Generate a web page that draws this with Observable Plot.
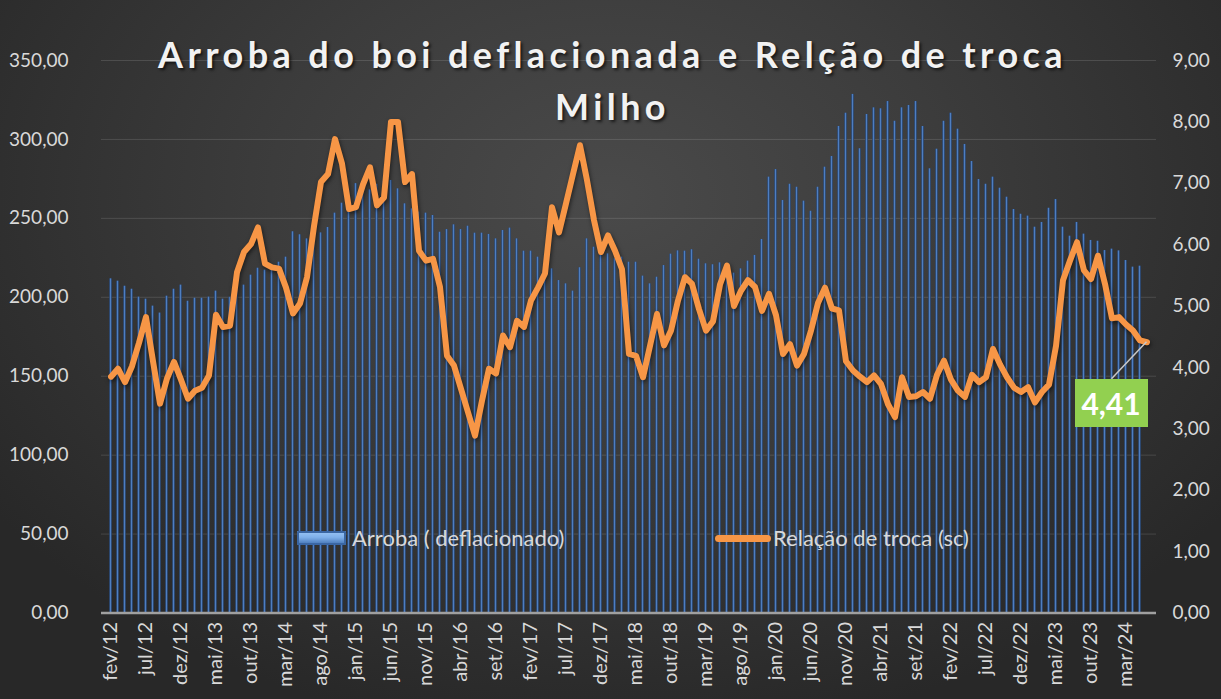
<!DOCTYPE html>
<html><head><meta charset="utf-8">
<script src="https://cdn.jsdelivr.net/npm/d3@7"></script>
<script src="https://cdn.jsdelivr.net/npm/@observablehq/plot@0.6"></script>
<style>
html,body{margin:0;padding:0;background:#2a2a2a;}
#wrap{position:relative;width:1221px;height:699px;overflow:hidden;
  background: radial-gradient(ellipse 62% 78% at 50% 28%, #4a4a4a 0%, #3c3c3c 45%, #282828 100%);
  font-family: Lato, "Open Sans", sans-serif;}
#chart{position:absolute;left:0;top:0;}
.title{position:absolute;left:2px;width:1221px;text-align:center;color:#f2f2f2;font-weight:700;
  font-size:36px;letter-spacing:4.4px;text-shadow:2px 2px 3px rgba(0,0,0,0.65);white-space:nowrap;}
.leg{position:absolute;color:#d9d9d9;font-size:22px;white-space:nowrap;line-height:22px;}
.sw1{position:absolute;width:49px;height:14px;border-radius:1px;
  background:linear-gradient(#9cc6f5 0%, #7fb0ea 45%, #3f6fb0 100%);
  box-shadow: inset 0 0 0 2px #3a66a3;}
.sw2{position:absolute;width:56px;height:7px;border-radius:4px;background:#f79646;}
#lab{position:absolute;background:#92d050;color:#fff;font-weight:700;font-size:30px;
  text-align:center;line-height:48px;width:73px;height:48px;}
</style></head>
<body>
<div id="wrap">
  <div id="chart"></div>
  <div class="title" style="top:32px;">Arroba do boi deflacionada e Relção de troca</div>
  <div class="title" style="top:84px;">Milho</div>
  <div class="sw1" style="left:297px;top:531px;"></div>
  <div class="leg" style="left:352px;top:527px;">Arroba ( deflacionado)</div>
  <div class="sw2" style="left:715px;top:535px;"></div>
  <div class="leg" style="left:773px;top:527px;">Relação de troca (sc)</div>
  <div id="lab"></div>
</div>
<script>
// Categories: monthly, fev/12 .. jun/24
const monthNames = ["jan","fev","mar","abr","mai","jun","jul","ago","set","out","nov","dez"];
const startMonthIndex = 1, startYear = 12, nMonths = 149;
const months = d3.range(nMonths).map(i => monthNames[(startMonthIndex + i) % 12] + "/" + (startYear + Math.floor((startMonthIndex + i) / 12)));

// Arroba (deflacionado), R$ — fev/12 .. mai/24
const arroba = [
211.7,210.2,207.0,205.1,200.1,198.8,194.4,190.0,200.7,205.1,207.7,197.5,
199.4,199.4,200.1,203.9,198.8,200.0,207.0,207.7,214.0,218.4,217.2,220.0,
222.2,225.4,241.5,239.6,237.0,238.0,240.8,244.2,253.3,259.6,265.0,272.0,
270.0,268.0,271.6,273.5,274.0,268.7,259.2,256.0,254.0,253.3,251.8,241.2,
242.9,245.9,242.9,245.0,240.6,240.6,239.8,237.0,242.3,243.8,237.0,229.2,
229.2,225.4,221.2,218.0,210.6,208.5,203.9,218.7,237.0,231.7,228.6,227.5,
224.4,225.4,222.2,222.2,213.4,208.5,212.7,220.1,227.3,229.4,229.2,230.1,
224.1,221.2,220.6,221.8,220.6,215.3,218.0,222.9,226.5,236.6,276.1,280.9,
261.3,271.6,269.7,260.9,254.5,269.7,282.4,289.2,308.2,316.6,328.5,294.1,
315.8,320.0,319.4,324.0,311.5,320.0,321.5,324.0,308.2,281.4,293.8,311.5,
316.6,306.5,296.8,286.0,274.6,271.6,276.1,269.1,263.4,255.6,252.6,251.4,
244.4,247.4,256.4,261.9,244.4,238.7,247.4,240.0,236.0,235.5,229.6,230.5,
229.4,223.3,219.1,219.7];

// Relação de troca (sc) — fev/12 .. jun/24
const relacao = [
3.85,3.98,3.76,4.02,4.40,4.82,4.10,3.41,3.82,4.09,3.80,3.49,
3.62,3.67,3.87,4.86,4.66,4.68,5.55,5.88,6.01,6.28,5.69,5.63,
5.61,5.30,4.88,5.04,5.47,6.30,7.02,7.15,7.72,7.32,6.58,6.61,
6.98,7.26,6.64,6.77,8.00,8.00,7.02,7.15,5.90,5.74,5.77,5.31,
4.19,4.03,3.65,3.27,2.89,3.46,3.98,3.90,4.52,4.33,4.76,4.66,
5.09,5.30,5.53,6.61,6.20,6.67,7.15,7.62,7.05,6.40,5.88,6.15,
5.90,5.60,4.22,4.19,3.84,4.35,4.87,4.36,4.60,5.09,5.47,5.36,
4.95,4.60,4.75,5.35,5.66,5.00,5.25,5.42,5.31,4.92,5.20,4.85,
4.22,4.38,4.03,4.22,4.60,5.05,5.30,4.96,4.93,4.10,3.95,3.85,
3.76,3.87,3.73,3.40,3.19,3.84,3.52,3.53,3.60,3.49,3.88,4.11,
3.80,3.62,3.52,3.88,3.76,3.84,4.30,4.05,3.84,3.67,3.60,3.68,
3.43,3.60,3.72,4.35,5.42,5.74,6.04,5.58,5.44,5.82,5.36,4.80,
4.82,4.70,4.60,4.44,4.41];

const leftTicks = [0,50,100,150,200,250,300,350];
const rightTicks = [0,1,2,3,4,5,6,7,8,9];
const leftMax = 350, rightMax = 9;
const toLeft = v => v * leftMax / rightMax;
const fmt = v => v.toFixed(2).replace(".", ",");
const xTicks = months.filter((d, i) => i % 5 === 0);

const barData = arroba.map((v, i) => ({m: months[i], v}));
const lineData = relacao.map((v, i) => ({m: months[i], v}));

const chart = Plot.plot({
  width: 1221, height: 699,
  marginLeft: 101, marginRight: 65, marginTop: 60, marginBottom: 86.5,
  style: {background: "transparent", color: "#d9d9d9", fontFamily: "Lato, 'Open Sans', sans-serif"},
  x: {type: "band", domain: months, padding: 0},
  y: {domain: [0, leftMax]},
  marks: [
    Plot.gridY(leftTicks.filter(d => d > 0), {stroke: "#ffffff", strokeOpacity: 0.13, strokeWidth: 1}),
    Plot.barY(barData, {x: "m", y: "v", fill: "url(#barGrad)", insetLeft: 2.2, insetRight: 2.2}),
    Plot.ruleY([0], {stroke: "#a0a0a0", strokeWidth: 2.5}),
    Plot.lineY(lineData, {x: "m", y: d => toLeft(d.v), stroke: "#f79646", strokeWidth: 6,
      strokeLinejoin: "round", strokeLinecap: "round"}),
    Plot.axisY(leftTicks, {anchor: "left", tickSize: 0, tickPadding: 33, fontSize: 19,
      tickFormat: fmt, label: null}),
    Plot.axisY(rightTicks.map(toLeft), {anchor: "right", tickSize: 0, tickPadding: 16, fontSize: 19,
      tickFormat: d => fmt(d * rightMax / leftMax), label: null}),
    Plot.axisX(xTicks, {anchor: "bottom", tickSize: 0, tickPadding: 9, tickRotate: -90, fontSize: 20, label: null})
  ]
});
document.getElementById("chart").appendChild(chart);

// bar gradient + line shadow
const svg = d3.select(chart);
const defs = svg.insert("defs", ":first-child");
const g = defs.append("linearGradient").attr("id", "barGrad").attr("x1", 0).attr("x2", 1).attr("y1", 0).attr("y2", 0);
g.append("stop").attr("offset", "0%").attr("stop-color", "#22406c");
g.append("stop").attr("offset", "50%").attr("stop-color", "#4f7ec0");
g.append("stop").attr("offset", "100%").attr("stop-color", "#22406c");
svg.selectAll('g[aria-label="line"] path').style("filter", "drop-shadow(1px 2px 2px rgba(0,0,0,0.55))");

// data label for the last point, positioned from the chart's own scales
const sx = chart.scale("x"), sy = chart.scale("y");
const last = lineData[lineData.length - 1];
const px = sx.apply(last.m) + sx.bandwidth / 2;
const py = sy.apply(toLeft(last.v));
const lab = document.getElementById("lab");
lab.textContent = fmt(last.v);
const bx = px - 72, by = py + 37;
lab.style.left = bx + "px"; lab.style.top = by + "px";
svg.append("line").attr("x1", px).attr("y1", py).attr("x2", bx + 37).attr("y2", by)
  .attr("stroke", "#c8c8c8").attr("stroke-width", 1.5);
</script>
</body></html>
